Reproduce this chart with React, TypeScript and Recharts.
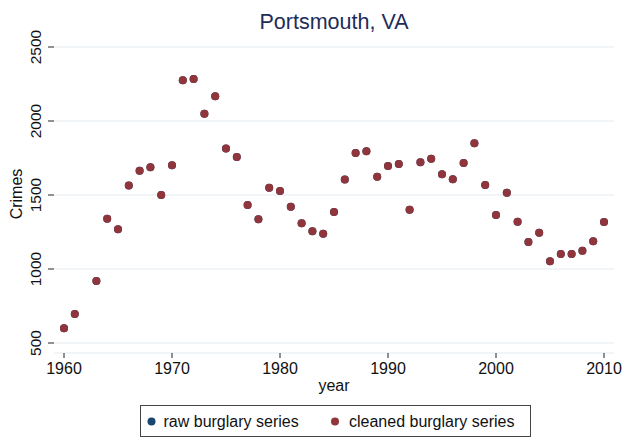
import { CartesianGrid, Scatter, ScatterChart, XAxis, YAxis } from "recharts";

// Burglary counts (1962 has no point).
const years = [
  1960, 1961, 1963, 1964, 1965, 1966, 1967, 1968, 1969, 1970,
  1971, 1972, 1973, 1974, 1975, 1976, 1977, 1978, 1979, 1980,
  1981, 1982, 1983, 1984, 1985, 1986, 1987, 1988, 1989, 1990,
  1991, 1992, 1993, 1994, 1995, 1996, 1997, 1998, 1999, 2000,
  2001, 2002, 2003, 2004, 2005, 2006, 2007, 2008, 2009, 2010,
];
const rawBurglary = [
  600, 696, 919, 1340, 1268, 1565, 1664, 1687, 1500, 1701,
  2275, 2284, 2049, 2167, 1815, 1757, 1432, 1336, 1549, 1527,
  1420, 1309, 1255, 1239, 1385, 1604, 1784, 1795, 1624, 1696,
  1709, 1401, 1721, 1745, 1640, 1606, 1716, 1849, 1568, 1365,
  1516, 1320, 1182, 1245, 1052, 1101, 1101, 1124, 1187, 1318,
];
const cleanedBurglary = [
  600, 696, 919, 1340, 1268, 1565, 1664, 1687, 1500, 1701,
  2275, 2284, 2049, 2167, 1815, 1757, 1432, 1336, 1549, 1527,
  1420, 1309, 1255, 1239, 1385, 1604, 1784, 1795, 1624, 1696,
  1709, 1401, 1721, 1745, 1640, 1606, 1716, 1849, 1568, 1365,
  1516, 1320, 1182, 1245, 1052, 1101, 1101, 1124, 1187, 1318,
];
const xTicks = [1960, 1970, 1980, 1990, 2000, 2010];
const yTicks = [500, 1000, 1500, 2000, 2500];

const FONT = '"Liberation Sans", Arial, Helvetica, sans-serif';
const RAW_COLOR = "#1a476f";
const CLEAN_COLOR = "#90353b";

const rawRows = years.map((year, i) => ({ year, value: rawBurglary[i] }));
const cleanRows = years.map((year, i) => ({ year, value: cleanedBurglary[i] }));

const dot = (color: string) => (props: any) =>
  <circle cx={props.cx} cy={props.cy} r={4} fill={color} />;

// Stata-style vertical y tick labels
const YTick = (props: any) => {
  const { y, payload } = props;
  const x = 40.5;
  return (
    <text
      x={x}
      y={y}
      transform={`rotate(-90 ${x} ${y})`}
      textAnchor="middle"
      fontSize={15.5}
      fontFamily={FONT}
      fill="#111"
    >
      {payload.value}
    </text>
  );
};

export default function App() {
  return (
    <div style={{ position: "absolute", left: 0, top: 0, width: 625, height: 437, background: "#fff", fontFamily: FONT }}>
      <ScatterChart width={625} height={437} margin={{ top: 47, right: 11, bottom: 54, left: 0 }}>
        <CartesianGrid vertical={false} stroke="#e4ecef" strokeWidth={1.2} />
        <XAxis
          dataKey="year"
          type="number"
          domain={[1960, 2010]}
          ticks={xTicks}
          padding={{ left: 10, right: 10 }}
          axisLine={false}
          tickLine={{ stroke: "#222" }}
          tickSize={5}
          tickMargin={5}
          height={30}
          tick={{ fontSize: 16, fontFamily: FONT, fill: "#111" }}
        />
        <YAxis
          dataKey="value"
          type="number"
          domain={[500, 2500]}
          ticks={yTicks}
          padding={{ top: 0, bottom: 10 }}
          axisLine={false}
          tickLine={{ stroke: "#222" }}
          tickSize={6}
          width={54}
          tick={<YTick />}
        />
        <Scatter name="raw burglary series" data={rawRows} shape={dot(RAW_COLOR)} isAnimationActive={false} />
        <Scatter name="cleaned burglary series" data={cleanRows} shape={dot(CLEAN_COLOR)} isAnimationActive={false} />
      </ScatterChart>

      <svg width={625} height={437} style={{ position: "absolute", left: 0, top: 0, pointerEvents: "none" }}>
        <text x={334} y={28.5} textAnchor="middle" fontSize={21.5} fontFamily={FONT} fill="#1e2d58">
          Portsmouth, VA
        </text>
        <text x={334} y={391} textAnchor="middle" fontSize={16} fontFamily={FONT} fill="#111">
          year
        </text>
        <text x={22} y={194} transform="rotate(-90 22 194)" textAnchor="middle" fontSize={16} fontFamily={FONT} fill="#111">
          Crimes
        </text>
      </svg>

      <div
        style={{
          position: "absolute",
          left: 140,
          top: 405,
          width: 389,
          height: 30,
          border: "1px solid #444",
          boxSizing: "content-box",
          fontSize: 16,
          color: "#111",
        }}
      >
        <svg width={389} height={30} style={{ position: "absolute", left: 0, top: 0 }}>
          <circle cx={10.5} cy={15.5} r={4} fill={RAW_COLOR} />
          <text x={22.5} y={20.5} fontSize={16} fontFamily={FONT} fill="#111">raw burglary series</text>
          <circle cx={194} cy={15.5} r={4} fill={CLEAN_COLOR} />
          <text x={208} y={20.5} fontSize={16} fontFamily={FONT} fill="#111">cleaned burglary series</text>
        </svg>
      </div>
    </div>
  );
}
